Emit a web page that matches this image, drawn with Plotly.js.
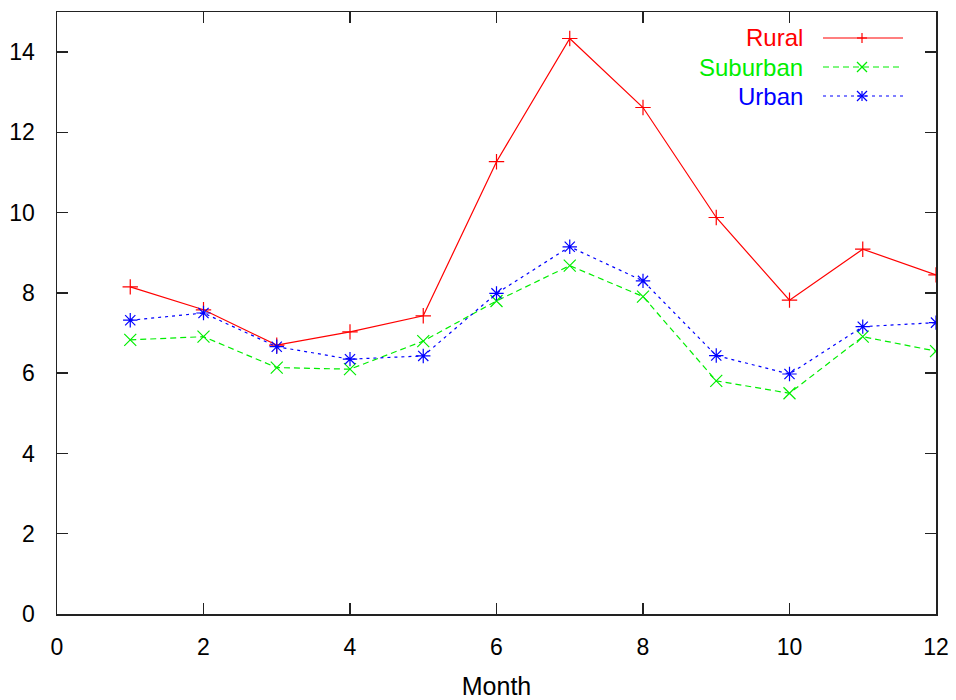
<!DOCTYPE html>
<html>
<head>
<meta charset="utf-8">
<script src="https://cdn.plot.ly/plotly-3.0.1.min.js"></script>
<style>html,body{margin:0;padding:0;background:#fff}#chart{width:956px;height:700px}</style>
</head>
<body>
<div id="chart"></div>
<script>
const months = [1,2,3,4,5,6,7,8,9,10,11,12];
const rural    = [8.15, 7.58, 6.70, 7.03, 7.43, 11.27, 14.34, 12.62, 9.88, 7.82, 9.09, 8.45];
const suburban = [6.83, 6.91, 6.14, 6.10, 6.80, 7.80, 8.68, 7.91, 5.81, 5.50, 6.91, 6.55];
const urban    = [7.32, 7.50, 6.66, 6.35, 6.43, 7.99, 9.15, 8.30, 6.44, 5.98, 7.16, 7.26];
const seriesNames = ['Rural','Suburban','Urban'];
const xTicks = [0,2,4,6,8,10,12];
const yTicks = [0,2,4,6,8,10,12,14];

const colors = ['#ff0000','#00ee00','#0000ff'];
const dashes = ['solid','6px,4px','3px,4px'];
const symbols = ['cross-thin','x-thin','asterisk'];
const sizes = [11,12,12];
const seriesVals = [rural, suburban, urban];

const W = 956, H = 700;
const M = {l:57, r:20, t:12, b:86};
const PW = W - M.l - M.r, PH = H - M.t - M.b;
const px2x = p => (p - M.l) / PW;
const py2y = p => (H - M.b - p) / PH;

const traces = seriesVals.map((v,i) => ({
  x: months, y: v, type:'scatter', mode:'lines+markers', name: seriesNames[i],
  showlegend:false,
  line:{color:colors[i], width:1.2, dash:dashes[i]},
  marker:{symbol:symbols[i], size:sizes[i], color:colors[i], line:{color:colors[i], width:1.2}}
}));

// custom gnuplot-style key: text on left, sample on right
const annotations = [], shapes = [];
const keyRowsPx = [38, 67, 96];
const textRight = 805, lineL = 823, lineR = 903, mk = 862, ms = 5;
seriesNames.forEach((n,i) => {
  const yp = keyRowsPx[i];
  annotations.push({xref:'paper', yref:'paper', x:px2x(textRight), y:py2y(yp), xanchor:'right', yanchor:'middle',
    text:n, showarrow:false, font:{family:'Liberation Sans, Arial, sans-serif', size:24, color:colors[i]}});
  shapes.push({type:'line', xref:'paper', yref:'paper', x0:px2x(lineL), x1:px2x(lineR), y0:py2y(yp), y1:py2y(yp),
    line:{color:colors[i], width:1.2, dash:dashes[i]}});
  const segs = [];
  if (i === 0 || i === 2) { segs.push([[-ms,0],[ms,0]], [[0,-ms],[0,ms]]); }
  if (i === 1 || i === 2) { segs.push([[-ms,-ms],[ms,ms]], [[-ms,ms],[ms,-ms]]); }
  segs.forEach(s => shapes.push({type:'line', xref:'paper', yref:'paper',
    x0:px2x(mk+s[0][0]), x1:px2x(mk+s[1][0]), y0:py2y(yp+s[0][1]), y1:py2y(yp+s[1][1]),
    line:{color:colors[i], width:1.2}}));
});

const fontFam = 'Liberation Sans, Arial, sans-serif';
const axisCommon = {
  showline:true, linecolor:'#222', linewidth:1.5, mirror:'allticks',
  ticks:'inside', ticklen:11, tickwidth:1.5, tickcolor:'#222',
  showgrid:false, zeroline:false, tickfont:{family:fontFam, size:23, color:'#000'}
};

const layout = {
  width:W, height:H, margin:M, paper_bgcolor:'#fff', plot_bgcolor:'#fff',
  font:{family:fontFam, color:'#000'},
  xaxis:Object.assign({}, axisCommon, {range:[0,12], tickvals:xTicks, ticktext:xTicks.map(String),
    ticklabelstandoff:12, title:{text:'Month', font:{family:fontFam, size:25, color:'#000'}, standoff:19}}),
  yaxis:Object.assign({}, axisCommon, {range:[0,15], tickvals:yTicks, ticktext:yTicks.map(String),
    ticklabelstandoff:16}),
  annotations, shapes, showlegend:false
};

Plotly.newPlot('chart', traces, layout, {displayModeBar:false, staticPlot:true});
</script>
</body>
</html>
